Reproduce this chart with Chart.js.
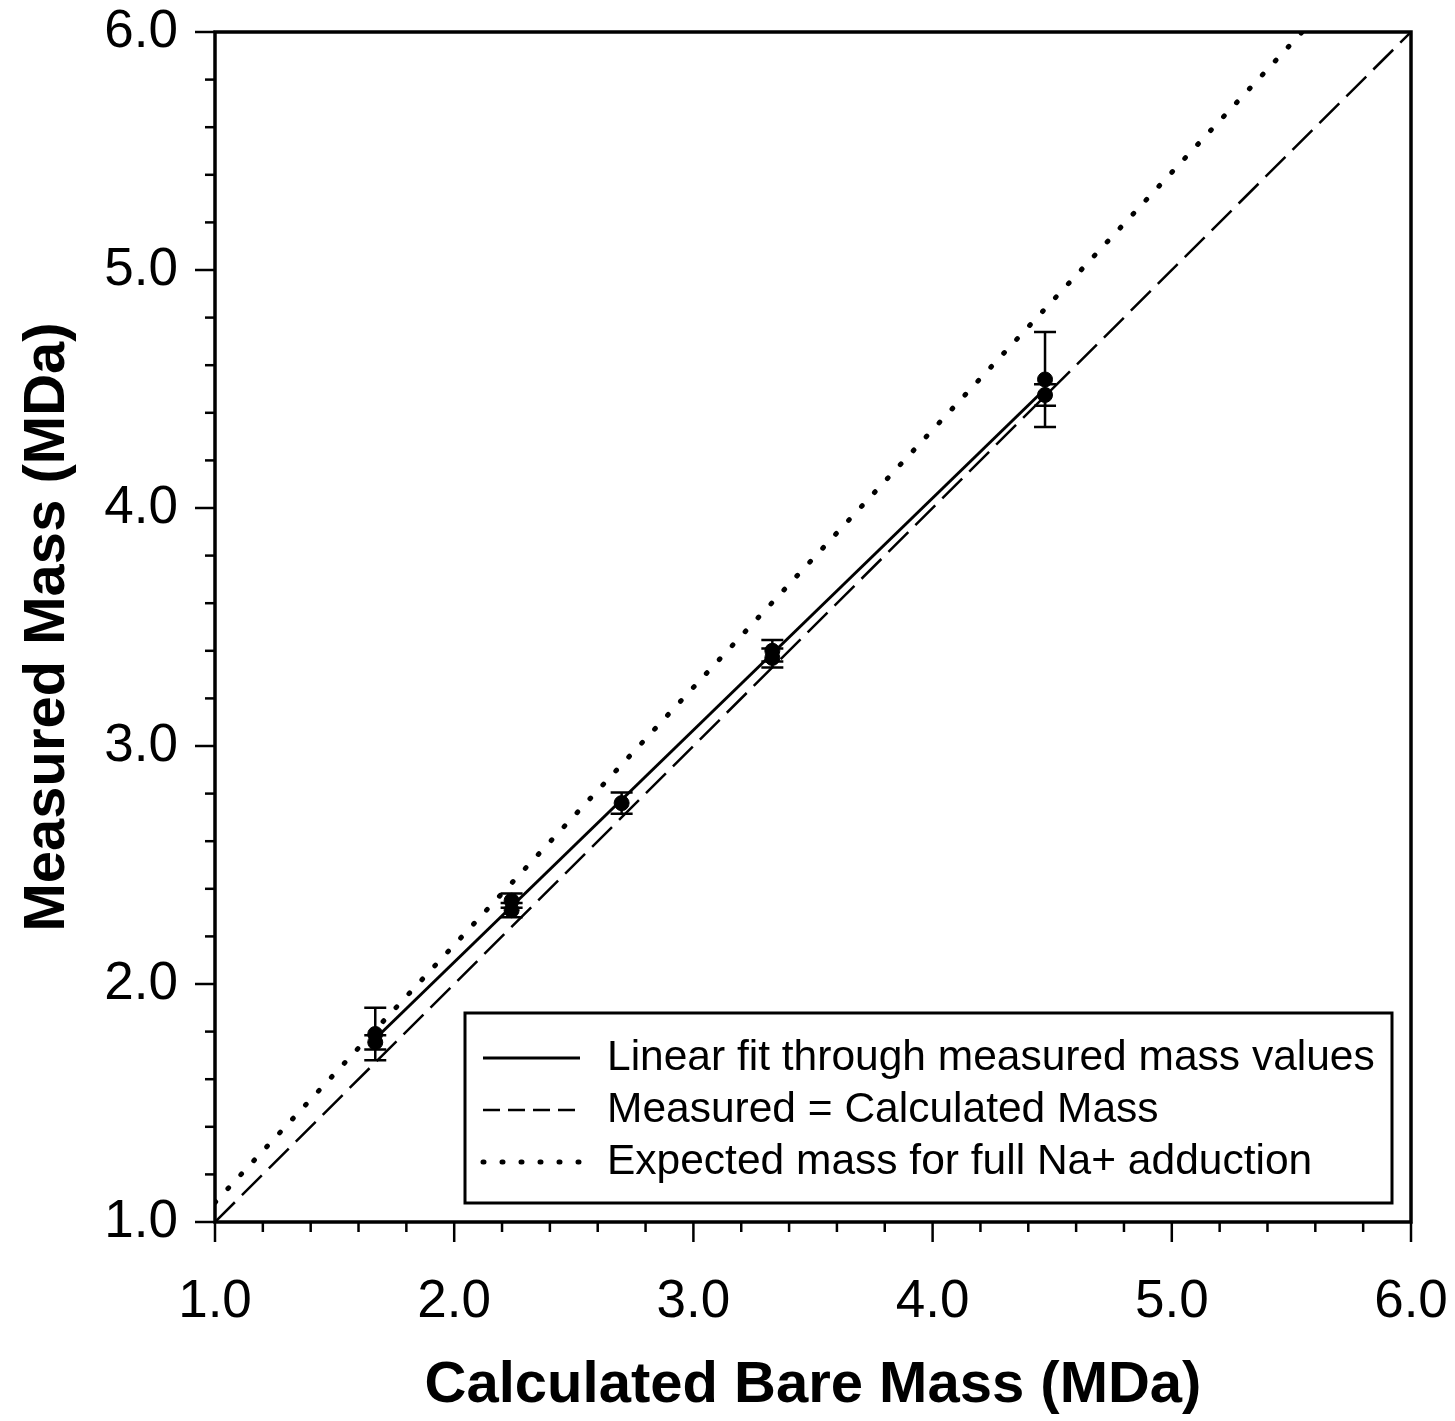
<!DOCTYPE html>
<html>
<head>
<meta charset="utf-8">
<script src="https://cdn.jsdelivr.net/npm/chart.js@4.4.1/dist/chart.umd.min.js"></script>
<style>
    html, body { margin: 0; padding: 0; background: #fff; }
    #wrap { width: 1455px; height: 1421px; }
</style>
</head>
<body>
<div id="wrap"><canvas id="Mass"></canvas></div>
<script>
// Measured mass values (MDa) with their error bars
const massX = [1.67, 1.67, 2.24, 2.24, 2.70, 3.33, 3.33, 4.47, 4.47];
const massY = [1.79, 1.755, 2.35, 2.31, 2.76, 3.40, 3.37, 4.54, 4.475];
const massErr = [0.11, 0.03, 0.03, 0.03, 0.045, 0.045, 0.04, 0.20, 0.045];

// Reference lines
const fitX = [1.67, 4.47];
const fitY = [1.77, 4.50];
const equalX = [1.0, 6.0];
const equalY = [1.0, 6.0];
const sodiumX = [1.0, 5.545];
const sodiumY = [1.082, 6.0];

const legendLabels = [
    "Linear fit through measured mass values",
    "Measured = Calculated Mass",
    "Expected mass for full Na+ adduction"
];
const xTitle = "Calculated Bare Mass (MDa)";
const yTitle = "Measured Mass (MDa)";

const FONT = "'Liberation Sans', Arial, Helvetica, sans-serif";

function toPoints(xs, ys) {
    return xs.map((x, i) => ({ x: x, y: ys[i] }));
}

function isMajor(v) {
    return Math.abs(v - Math.round(v)) < 1e-6;
}

// tick marks: long ones on whole numbers, short ones in between
const tickMarks = {
    id: "tickMarks",
    afterDraw(chart) {
        const ctx = chart.ctx;
        const area = chart.chartArea;
        ctx.save();
        ctx.strokeStyle = "#000";
        ctx.lineWidth = 2.5;
        chart.scales.x.ticks.forEach(t => {
            const px = chart.scales.x.getPixelForValue(t.value);
            const len = isMajor(t.value) ? 20 : 10;
            ctx.beginPath();
            ctx.moveTo(px, area.bottom);
            ctx.lineTo(px, area.bottom + len);
            ctx.stroke();
        });
        chart.scales.y.ticks.forEach(t => {
            const py = chart.scales.y.getPixelForValue(t.value);
            const len = isMajor(t.value) ? 20 : 10;
            ctx.beginPath();
            ctx.moveTo(area.left, py);
            ctx.lineTo(area.left - len, py);
            ctx.stroke();
        });
        // frame
        ctx.lineWidth = 3.5;
        ctx.strokeRect(area.left, area.top, area.right - area.left, area.bottom - area.top);
        ctx.restore();
    }
};

// vertical error bars with caps
const errorBars = {
    id: "errorBars",
    afterDatasetsDraw(chart) {
        const ctx = chart.ctx;
        const xs = chart.scales.x, ys = chart.scales.y;
        ctx.save();
        ctx.strokeStyle = "#000";
        ctx.lineWidth = 2.5;
        massX.forEach((x, i) => {
            const px = xs.getPixelForValue(x);
            const top = ys.getPixelForValue(massY[i] + massErr[i]);
            const bot = ys.getPixelForValue(massY[i] - massErr[i]);
            ctx.beginPath();
            ctx.moveTo(px, top); ctx.lineTo(px, bot);
            ctx.moveTo(px - 11, top); ctx.lineTo(px + 11, top);
            ctx.moveTo(px - 11, bot); ctx.lineTo(px + 11, bot);
            ctx.stroke();
        });
        ctx.restore();
    }
};

// boxed legend in the lower right of the plot
const boxLegend = {
    id: "boxLegend",
    afterDraw(chart) {
        const ctx = chart.ctx;
        const area = chart.chartArea;
        const w = 927, h = 190;
        const left = area.right - 19 - w;
        const top = area.bottom - 19 - h;
        ctx.save();
        ctx.strokeStyle = "#000";
        ctx.lineWidth = 3;
        ctx.strokeRect(left, top, w, h);
        const rows = [45, 97, 149];
        const lineSets = chart.data.datasets.filter(d => d.type === "line");
        lineSets.forEach((d, i) => {
            const y = top + rows[i];
            ctx.beginPath();
            ctx.lineWidth = d.borderWidth;
            ctx.setLineDash(d.legendDash || []);
            ctx.lineCap = d.borderCapStyle || "butt";
            ctx.moveTo(left + 18, y);
            ctx.lineTo(left + 115, y);
            ctx.stroke();
            ctx.setLineDash([]);
            ctx.fillStyle = "#000";
            ctx.font = "42.5px " + FONT;
            ctx.textBaseline = "middle";
            ctx.textAlign = "left";
            ctx.fillText(d.label, left + 142, y);
        });
        ctx.restore();
    }
};

new Chart(document.querySelector("#Mass"), {
    data: {
        datasets: [
            {
                type: "line",
                label: legendLabels[0],
                data: toPoints(fitX, fitY),
                borderColor: "#000",
                borderWidth: 3,
                pointRadius: 0
            },
            {
                type: "line",
                label: legendLabels[1],
                data: toPoints(equalX, equalY),
                borderColor: "#000",
                borderWidth: 2.5,
                borderDash: [28, 10],
                legendDash: [17, 8],
                pointRadius: 0
            },
            {
                type: "line",
                label: legendLabels[2],
                data: toPoints(sodiumX, sodiumY),
                borderColor: "#000",
                borderWidth: 5,
                borderDash: [1, 18],
                legendDash: [1, 18],
                borderCapStyle: "round",
                pointRadius: 0
            },
            {
                type: "scatter",
                label: "Measured",
                data: toPoints(massX, massY),
                backgroundColor: "#000",
                borderColor: "#000",
                pointRadius: 7.5,
                pointHoverRadius: 7.5
            }
        ]
    },
    options: {
        responsive: true,
        maintainAspectRatio: false,
        animation: false,
        events: [],
        layout: { padding: { top: 32, right: 44, left: 0, bottom: 0 } },
        plugins: {
            legend: { display: false },
            tooltip: { enabled: false }
        },
        scales: {
            x: {
                type: "linear",
                min: 1, max: 6,
                afterFit(scale) {
                    scale.height = 199;
                    scale.paddingLeft = 0;
                    scale.paddingRight = 0;
                },
                border: { display: false },
                grid: { drawOnChartArea: false, drawTicks: true, tickLength: 20, tickColor: "rgba(0,0,0,0)" },
                ticks: {
                    stepSize: 0.2,
                    autoSkip: false,
                    maxRotation: 0,
                    padding: 29,
                    color: "#000",
                    font: { family: FONT, size: 53 },
                    callback: v => isMajor(v) ? v.toFixed(1) : ""
                },
                title: {
                    display: true,
                    text: xTitle,
                    color: "#000",
                    padding: { top: 0, bottom: 0 },
                    font: { family: FONT, size: 58, weight: "bold" }
                }
            },
            y: {
                type: "linear",
                min: 1, max: 6,
                afterFit(scale) {
                    scale.width = 215;
                    scale.paddingTop = 0;
                    scale.paddingBottom = 0;
                },
                border: { display: false },
                grid: { drawOnChartArea: false, drawTicks: true, tickLength: 20, tickColor: "rgba(0,0,0,0)" },
                ticks: {
                    stepSize: 0.2,
                    autoSkip: false,
                    padding: 17,
                    color: "#000",
                    font: { family: FONT, size: 53 },
                    callback: v => isMajor(v) ? v.toFixed(1) : ""
                },
                title: {
                    display: true,
                    text: yTitle,
                    color: "#000",
                    padding: { top: 13, bottom: 0 },
                    font: { family: FONT, size: 58, weight: "bold" }
                }
            }
        }
    },
    plugins: [errorBars, tickMarks, boxLegend]
});
</script>
</body>
</html>
